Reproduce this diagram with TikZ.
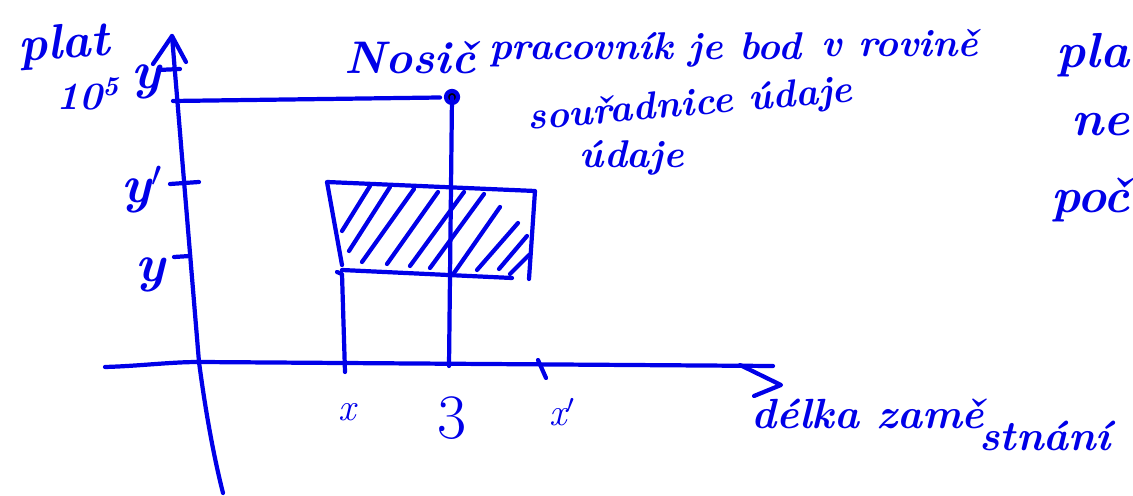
\documentclass[tikz,border=0pt]{standalone}
\usepackage{fontspec}
\definecolor{ink}{RGB}{0,0,232}
\newcommand{\fs}[1]{\fontsize{#1}{#1}\selectfont}
\begin{document}
\begin{tikzpicture}[x=0.02cm,y=-0.02cm,
  ink/.style={draw=ink,line width=2.4pt,line cap=round,line join=round},
  hand/.style={text=ink,inner sep=0pt,font=\bfseries\itshape},
]
\useasboundingbox (0,0) rectangle (1133,496);
% y axis
\coordinate (yb) at (223,493);
\coordinate (ym) at (199,362);
\coordinate (yt) at (172,36);
\coordinate (yal) at (153,64);
\coordinate (yar) at (186,62);
\draw[ink] (yb) .. controls (212,450) and (204,400) .. (ym) -- (yt);
\draw[ink] (yal) -- (yt) -- (yar);
% x axis
\coordinate (xs) at (105,367);
\coordinate (xe) at (773,366);
\coordinate (xau) at (740,365);
\coordinate (xat) at (781,385);
\coordinate (xal) at (754,396);
\draw[ink] (xs) .. controls (140,366) and (170,362) .. (ym) -- (xe);
\draw[ink] (xau) -- (xat) -- (xal);
% y ticks
\coordinate (t5a) at (158,70); \coordinate (t5b) at (180,69);
\coordinate (tya) at (170,184); \coordinate (tyb) at (199,182);
\coordinate (tza) at (174,257); \coordinate (tzb) at (190,256);
\draw[ink] (t5a) -- (t5b);
\draw[ink] (tya) -- (tyb);
\draw[ink] (tza) -- (tzb);
% point (3, 10^5)
\coordinate (hl) at (173,101);
\coordinate (pt) at (452,97);
\coordinate (pb) at (449,366);
\draw[ink] (hl) -- (440,97.5);
\fill[ink] (pt) circle (6);
\draw[ink] (pt) -- (pb);
% x ticks
\coordinate (xt1a) at (337,272); \coordinate (xt1b) at (345,372);
\draw[ink] (xt1a) -- (342,274) -- (xt1b);
\coordinate (xt2a) at (538,360); \coordinate (xt2b) at (546,378);
\draw[ink] (xt2a) -- (xt2b);
% rectangle
\coordinate (r1) at (327,182);
\coordinate (r2) at (535,191);
\coordinate (r3) at (529,279);
\coordinate (r4) at (342,265);
\coordinate (b1) at (342,270);
\coordinate (b2) at (512,278);
\draw[ink] (r4) -- (r1) -- (r2) -- (r3);
\draw[ink] (b1) -- (b2);
% hatching
\foreach \a/\b/\c/\d in {370/186/342/231, 390/187/349/251, 414/189/362/262,
  438/192/387/264, 464/192/410/266, 484/194/430/268, 500/207/454/273,
  518/223/477/270, 527/236/499/269, 529/255/510/274}
  \draw[ink] (\a,\b) -- (\c,\d);
% labels
\node[hand,font=\bfseries\itshape\fs{28},rotate=4] (plat) at (64,46) {plat};
\node[hand,font=\bfseries\itshape\fs{22}] (ten) at (88,94) {10\textsuperscript{5}};
\node[hand,font=\bfseries\itshape\fs{30}] (ylab) at (146,82) {y};
\node[hand,font=\bfseries\itshape\fs{30}] (yp) at (142,190) {y$'$};
\node[hand,font=\bfseries\itshape\fs{30}] (yy) at (150,275) {y};
\node[hand,font=\itshape\fs{22}] (xx) at (347,412) {x};
\node[hand,font=\fs{36}] (three) at (452,418) {3};
\node[hand,font=\itshape\fs{22}] (xp) at (562,412) {x$'$};
\node[hand,font=\bfseries\itshape\fs{26}] (nosic) at (410,58) {Nosič};
\node[hand,font=\bfseries\itshape\fs{22}] (prac) at (645,50) {pracovník je bod};
\node[hand,font=\bfseries\itshape\fs{22}] (rov) at (900,43) {v rovině};
\node[hand,font=\bfseries\itshape\fs{22},rotate=5] (sour) at (690,106) {souřadnice údaje};
\node[hand,font=\bfseries\itshape\fs{22}] (udaje) at (632,158) {údaje};
\node[hand,font=\bfseries\itshape\fs{24}] (delka) at (868,414) {délka zamě};
\node[hand,font=\bfseries\itshape\fs{24}] (stn) at (1045,436) {stnání};
\node[hand,font=\bfseries\itshape\fs{28},anchor=east] (pla) at (1130,55) {pla};
\node[hand,font=\bfseries\itshape\fs{28},anchor=east] (ne) at (1130,125) {ne};
\node[hand,font=\bfseries\itshape\fs{28},anchor=east] (poc) at (1130,200) {poč};
\end{tikzpicture}
\end{document}
